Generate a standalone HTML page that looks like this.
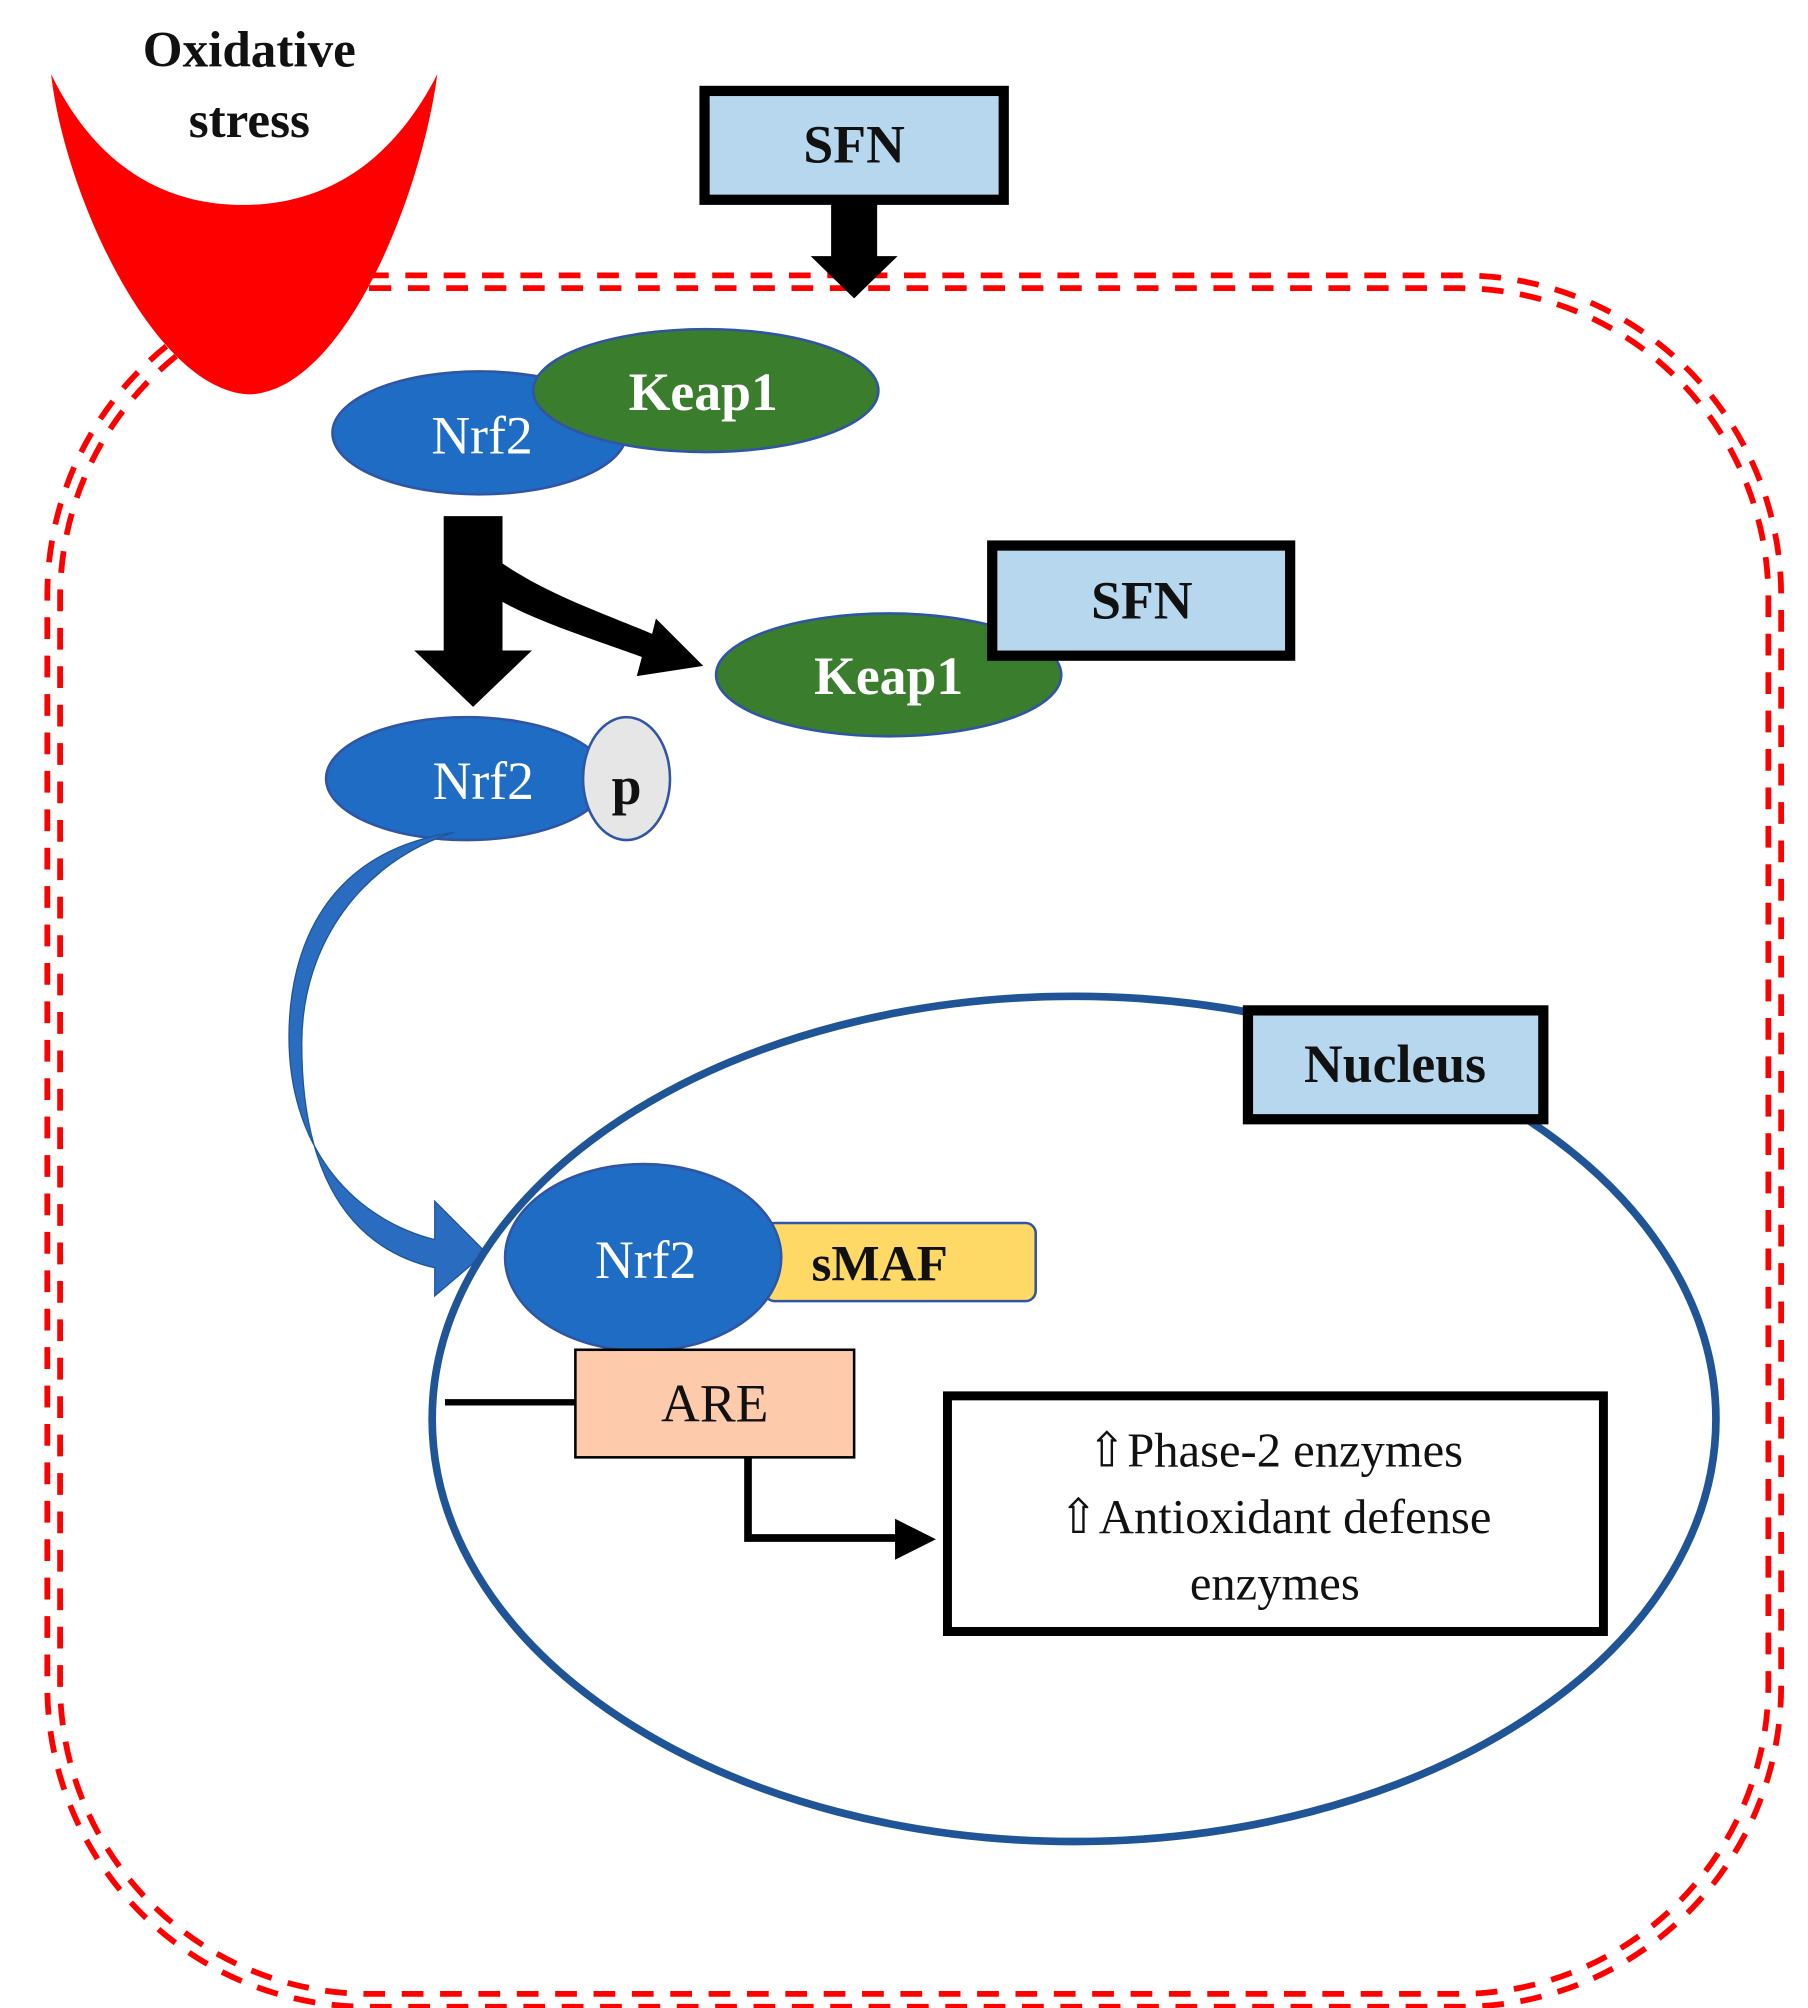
<!DOCTYPE html>
<html><head><meta charset="utf-8"><style>
html,body{margin:0;padding:0;background:#fff;}
svg{display:block;}
text{font-family:"Liberation Serif","DejaVu Serif",serif;}
</style></head><body>
<svg width="1808" height="2008" viewBox="0 0 1414 1568" preserveAspectRatio="none" xmlns="http://www.w3.org/2000/svg">
<!-- cell membrane -->
<rect x="37" y="215" width="1356" height="1352" rx="250" ry="250" fill="none" stroke="#f00" stroke-width="4.5" stroke-dasharray="17 13"/>
<rect x="47" y="225" width="1336" height="1332" rx="242" ry="242" fill="none" stroke="#f00" stroke-width="4.5" stroke-dasharray="17 13"/>
<!-- oxidative stress -->
<path d="M40,58 C80,140 140,160 190,160 C240,160 300,140 342,58 C330,150 270,305 195,308 C120,305 50,150 40,58 Z" fill="#f00"/>
<text x="195" y="52" font-size="40" font-weight="bold" text-anchor="middle" fill="#111">Oxidative</text>
<text x="195" y="107" font-size="40" font-weight="bold" text-anchor="middle" fill="#111">stress</text>
<!-- SFN top -->
<rect x="551" y="71" width="234" height="85" fill="#b7d7ee" stroke="#000" stroke-width="8"/>
<text x="668" y="127" font-size="42" font-weight="bold" text-anchor="middle" fill="#111">SFN</text>
<path d="M650,157 L686,157 L686,200 L702,200 L668,233 L634,200 L650,200 Z" fill="#000"/>
<!-- Nrf2/Keap1 complex -->
<ellipse cx="375" cy="338" rx="115" ry="48" fill="#1f6cc4" stroke="#2f55a4" stroke-width="2"/>
<ellipse cx="552" cy="305" rx="135" ry="48" fill="#3a7d2c" stroke="#2f55a4" stroke-width="2"/>
<text x="377" y="354" font-size="42" text-anchor="middle" fill="#fff">Nrf2</text>
<text x="550" y="320" font-size="42" font-weight="bold" text-anchor="middle" fill="#fff">Keap1</text>
<!-- black arrows -->
<path d="M347,403 L393,403 L393,508 L416,508 L370,552 L324,508 L347,508 Z" fill="#000"/>
<path d="M393,440 C430,465 470,478 510,495 L513,483 L550,520 L498,528 L502,513 C460,498 420,485 393,470 Z" fill="#000"/>
<!-- Keap1 + SFN -->
<ellipse cx="695" cy="527" rx="135" ry="48" fill="#3a7d2c" stroke="#2f55a4" stroke-width="2"/>
<text x="695" y="542" font-size="42" font-weight="bold" text-anchor="middle" fill="#fff">Keap1</text>
<rect x="776" y="426" width="233" height="86" fill="#b7d7ee" stroke="#000" stroke-width="8"/>
<text x="893" y="483" font-size="42" font-weight="bold" text-anchor="middle" fill="#111">SFN</text>
<!-- Nrf2-p -->
<ellipse cx="365" cy="608" rx="110" ry="48" fill="#1f6cc4" stroke="#2f55a4" stroke-width="2"/>
<text x="378" y="624" font-size="42" text-anchor="middle" fill="#fff">Nrf2</text>
<ellipse cx="490" cy="608" rx="34" ry="48" fill="#e6e6e6" stroke="#2f55a4" stroke-width="2"/>
<text x="490" y="628" font-size="42" font-weight="bold" text-anchor="middle" fill="#111">p</text>
<!-- blue curved arrow -->
<path d="M355,650 C255,665 226,740 226,810 C226,890 270,950 340,968 L340,938 L380,978 L340,1012 L340,990 C262,972 236,900 236,815 C236,735 285,672 355,650 Z" fill="#2a6cc0" stroke="#1f5596" stroke-width="1"/>
<!-- nucleus -->
<ellipse cx="840" cy="1108" rx="502" ry="330" fill="none" stroke="#1f5596" stroke-width="6"/>
<rect x="976" y="789" width="231" height="85" fill="#b7d7ee" stroke="#000" stroke-width="8"/>
<text x="1091" y="845" font-size="42" font-weight="bold" text-anchor="middle" fill="#111">Nucleus</text>
<rect x="598" y="955" width="212" height="61" rx="8" fill="#ffd966" stroke="#2f55a4" stroke-width="2"/>
<text x="688" y="1000" font-size="40" font-weight="bold" text-anchor="middle" fill="#111">sMAF</text>
<ellipse cx="503" cy="982" rx="108" ry="73" fill="#1f6cc4" stroke="#2f55a4" stroke-width="2"/>
<text x="505" y="998" font-size="42" text-anchor="middle" fill="#fff">Nrf2</text>
<line x1="348" y1="1095" x2="450" y2="1095" stroke="#000" stroke-width="5"/>
<rect x="450" y="1054" width="218" height="84" fill="#fdcbab" stroke="#000" stroke-width="2"/>
<text x="559" y="1110" font-size="42" text-anchor="middle" fill="#111">ARE</text>
<path d="M585,1138 L585,1201 L705,1201" fill="none" stroke="#000" stroke-width="6"/>
<path d="M700,1186 L732,1202 L700,1218 Z" fill="#000"/>
<rect x="741" y="1090" width="513" height="184" fill="#fff" stroke="#000" stroke-width="7"/>
<text x="997" y="1145" font-size="38" text-anchor="middle" fill="#111">⇧Phase-2 enzymes</text>
<text x="997" y="1197" font-size="38" text-anchor="middle" fill="#111">⇧Antioxidant defense</text>
<text x="997" y="1249" font-size="38" text-anchor="middle" fill="#111">enzymes</text>
</svg>
</body></html>
